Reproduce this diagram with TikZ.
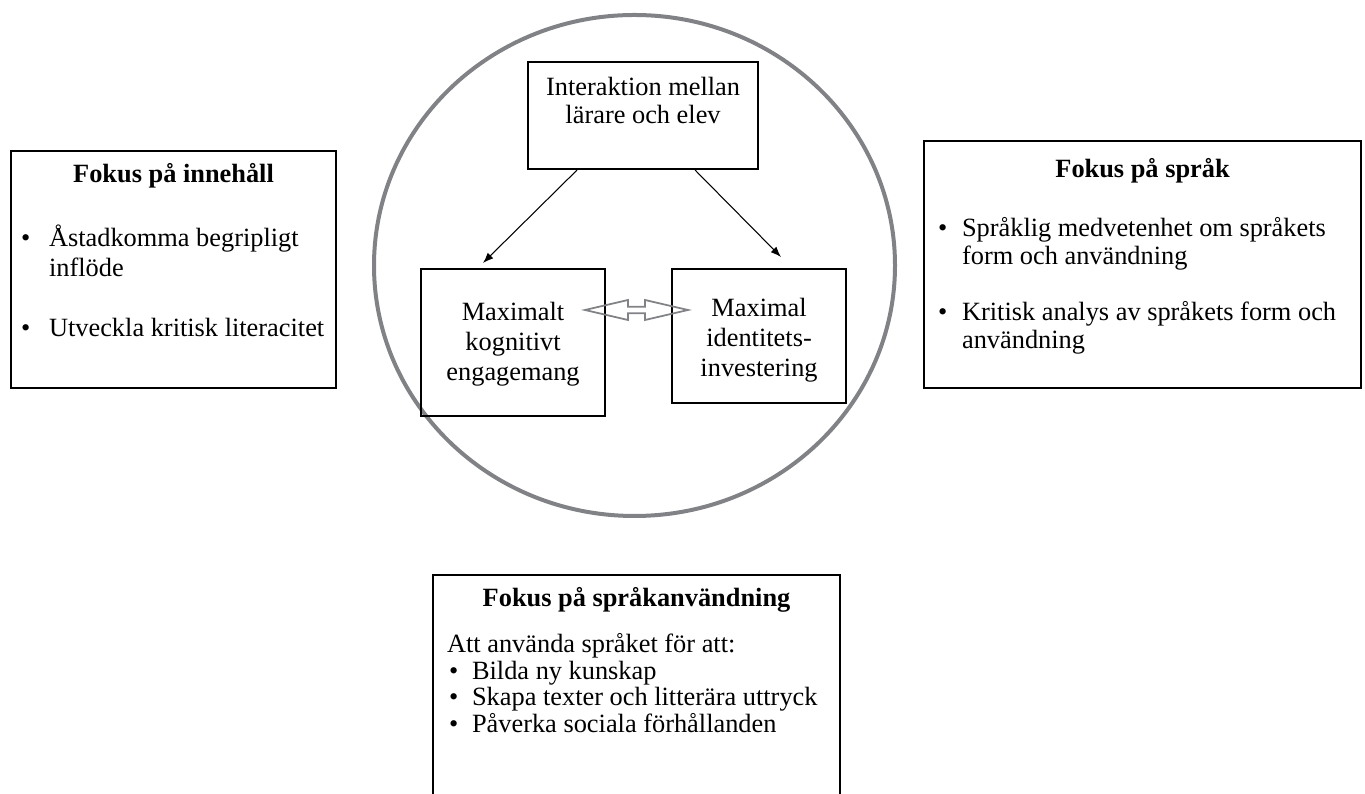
\documentclass[tikz,border=0pt]{standalone}
\usepackage{fontspec}
\setmainfont{Liberation Serif}
\usepackage{tikz}
\usetikzlibrary{arrows.meta,positioning,calc}
\definecolor{ringgra}{RGB}{128,130,134}

\tikzset{
  ruta/.style={draw, line width=1.2pt, inner sep=0pt, anchor=north west,
    font=\fontsize{15}{17.07}\selectfont},
  pil/.style={-{Latex[length=6pt,width=4.5pt]}, line width=0.6pt},
}

\begin{document}
\begin{tikzpicture}
    \useasboundingbox (0,0) rectangle (27.3,15.88);
    % Ringen runt de tre inre rutorna
    \draw[ringgra, line width=0.08cm] (12.69,10.57) ellipse (5.21cm and 5.01cm);
    % Inre rutor
    \node[ruta] (interaktion) at (10.54,14.66)
        {\parbox[c][2.14cm][t]{4.6cm}{\vspace*{0.31cm}\centering
         Interaktion mellan\\[-1.1pt]lärare och elev}};
    \node[ruta] (kognitiv) at (8.4,10.52)
        {\parbox[c][2.94cm][t]{3.68cm}{\vspace*{0.67cm}\centering
         Maximalt\\kognitivt\\engagemang}};
    \node[ruta] (identitet) at (13.42,10.52)
        {\parbox[c][2.68cm][t]{3.48cm}{\vspace*{0.59cm}\centering
         Maximal\\identitets-\\investering}};
    % Pilar
    \draw[pil] ([xshift=1cm]interaktion.south west)
        -- ([xshift=1.26cm,yshift=0.1cm]kognitiv.north west);
    \draw[pil] ([xshift=-1.28cm]interaktion.south east)
        -- ([xshift=2.2cm,yshift=0.22cm]identitet.north west);
    % Dubbelpil (ihålig)
    \coordinate (dubbel) at (12.73,9.68);
    \begin{scope}[shift={(dubbel)}]
        \draw[ringgra, line width=1pt] (-1.03,0) -- (-0.17,0.2) -- (-0.17,0.067)
            -- (0.17,0.067) -- (0.17,0.2) -- (1.03,0) -- (0.17,-0.2)
            -- (0.17,-0.067) -- (-0.17,-0.067) -- (-0.17,-0.2) -- cycle;
    \end{scope}
    % Fokus på innehåll
    \node[ruta] (innehall) at (0.2,12.88) {\parbox[c][4.74cm][t]{6.5cm}{%
        \vspace*{0.25cm}\centering\textbf{Fokus på innehåll}\par
        \vspace{0.68cm}\raggedright\hspace*{0.2cm}%
        \begin{tabular}[t]{@{}p{0.56cm}@{}l@{}}
            \textbullet & Åstadkomma begripligt\\
                        & inflöde\\[0.6cm]
            \textbullet & Utveckla kritisk literacitet
        \end{tabular}}};
    % Fokus på språk
    \node[ruta] (sprak) at (18.46,13.08) {\parbox[c][4.94cm][t]{8.74cm}{%
        \vspace*{0.35cm}\centering\textbf{Fokus på språk}\par
        \vspace{0.58cm}\raggedright\hspace*{0.28cm}%
        \renewcommand{\arraystretch}{0.92}%
        \begin{tabular}[t]{@{}p{0.48cm}@{}l@{}}
            \textbullet & Språklig medvetenhet om språkets\\
                        & form och användning\\[0.58cm]
            \textbullet & Kritisk analys av språkets form och\\
                        & användning
        \end{tabular}}};
    % Fokus på språkanvändning (öppen nedtill)
    \node[ruta, draw=none] (sprakanv) at (8.66,4.38) {\parbox[c][4.38cm][t]{8.1cm}{%
        \vspace*{0.23cm}\centering\textbf{Fokus på språkanvändning}\par
        \vspace{0.32cm}\raggedright\hspace*{0.26cm}%
        \renewcommand{\arraystretch}{0.88}%
        \begin{tabular}[t]{@{}p{0.5cm}@{}l@{}}
            \multicolumn{2}{@{}l@{}}{Att använda språket för att:}\\
            \hspace{0.04cm}\textbullet & Bilda ny kunskap\\
            \hspace{0.04cm}\textbullet & Skapa texter och litterära uttryck\\
            \hspace{0.04cm}\textbullet & Påverka sociala förhållanden
        \end{tabular}}};
    \draw[line width=1.2pt] (sprakanv.south west) |- (sprakanv.north east)
        -- (sprakanv.south east);
\end{tikzpicture}
\end{document}
